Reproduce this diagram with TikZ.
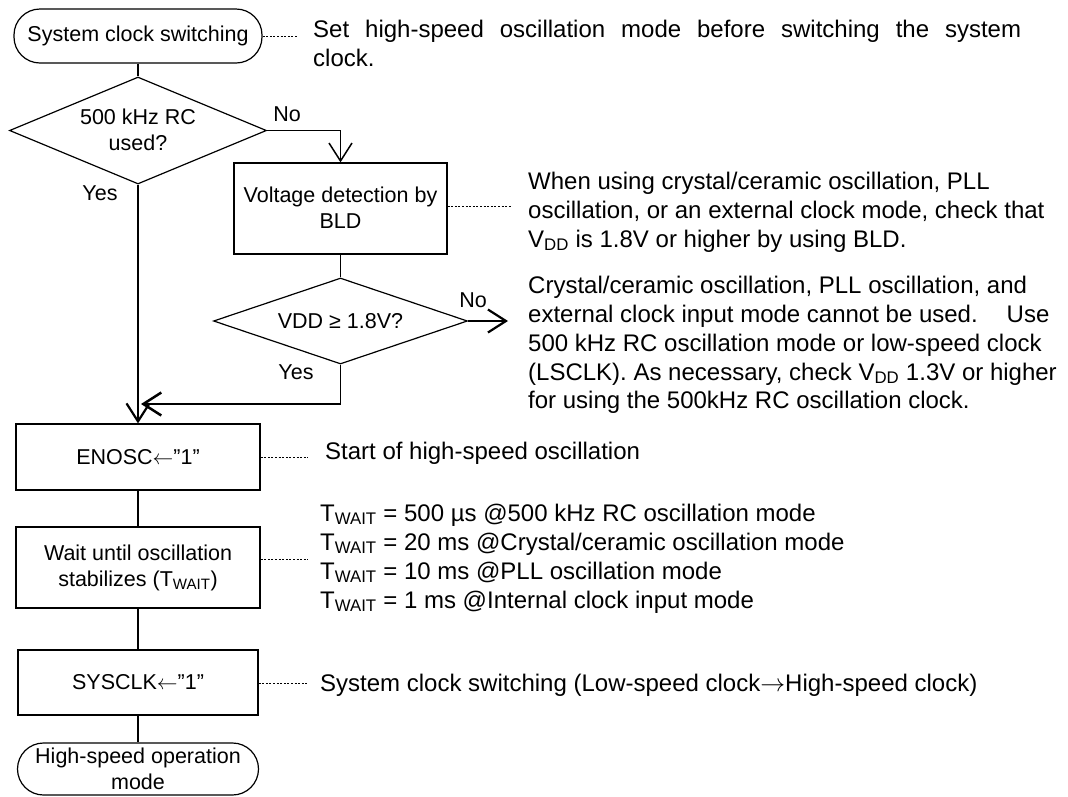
\documentclass[tikz,border=0pt]{standalone}
\usepackage{fontspec}
\setmainfont{Liberation Sans}
\usetikzlibrary{arrows.meta,shapes.geometric}
\newcommand\lowtwo[2]{\raisebox{-1.5pt}[\height][\depth]{\begin{tabular}{@{}c@{}}#1\\#2\end{tabular}}}
\begin{document}
\begin{tikzpicture}[x=1pt,y=-1pt,
  chart/.style={font=\fontsize{21.5}{26}\selectfont, line width=1.2pt, draw, align=center, inner sep=0pt},
  boxnode/.style={chart, rectangle},
  termnode/.style={chart, rectangle, rounded corners=26pt},
  decnode/.style={chart, diamond},
  lbl/.style={font=\fontsize{21.5}{26}\selectfont, inner sep=0pt},
  note/.style={font=\fontsize{24}{29}\selectfont, inner sep=0pt, anchor=base west},
  flowthick/.style={line width=2.2pt},
  flowthin/.style={line width=1.2pt},
  flowarrow/.style={-{Straight Barb[length=18pt,width=23pt]}},
  dotline/.style={line width=0.8pt, dash pattern=on 2pt off 1.6pt},
]
\useasboundingbox (0,0) rectangle (1068,796);

% flowchart nodes
\node[termnode, minimum width=248pt, minimum height=54pt] (start) at (138,36) {System clock switching};
\node[decnode, minimum width=257pt, minimum height=107pt, aspect=2.4] (d1) at (138,130.5) {\lowtwo{500 kHz RC}{used?}};
\node[boxnode, minimum width=213pt, minimum height=91pt] (bld) at (340.5,208.5) {\lowtwo{Voltage detection by}{BLD}};
\node[decnode, minimum width=254pt, minimum height=86pt, aspect=2.95] (d2) at (340.5,321) {VDD ≥ 1.8V?};
\node[boxnode, minimum width=244pt, minimum height=66pt] (enosc) at (138,457) {ENOSC$\leftarrow$”1”};
\node[boxnode, minimum width=244pt, minimum height=81pt] (wait) at (138,567.5) {Wait until oscillation\\stabilizes (T\textsubscript{WAIT})};
\node[boxnode, minimum width=240pt, minimum height=65pt] (sysclk) at (138,682.5) {SYSCLK$\leftarrow$”1”};
\node[termnode, minimum width=241pt, minimum height=52pt] (stop) at (138,769) {High-speed operation\\mode};

% connectors
\draw[flowthick] (start.south) -- (d1.north);
\draw[line width=1.5pt, flowarrow] (d1.east) -| (bld.north);
\draw[flowthick, flowarrow] (d1.south) -- (enosc.north);
\draw[flowthin] (bld.south) -- (d2.north);
\coordinate (noend) at (508,321);
\draw[flowthick, flowarrow] (d2.east) -- (noend);
\coordinate (merge) at (141,404);
\draw[flowthin] (d2.south) -- ([yshift=1.2pt]d2.south |- merge);
\draw[line width=2.5pt, flowarrow] (d2.south |- merge) -- (merge);
\draw[flowthin] (enosc.south) -- (wait.north);
\draw[flowthin] (wait.south) -- (sysclk.north);
\draw[flowthin] (sysclk.south) -- (stop.north);

% branch labels
\node[lbl] (no1) at (287,114) {No};
\node[lbl] (yes1) at (100,193) {Yes};
\node[lbl] (no2) at (473,300.5) {No};
\node[lbl] (yes2) at (296,372.5) {Yes};

% dotted leaders
\coordinate (dA) at (298,36);
\draw[dotline] (start.east) -- (dA);
\coordinate (dB) at (512,206);
\draw[dotline] (bld.east |- dB) -- (dB);
\coordinate (dC) at (308,457);
\draw[dotline] (enosc.east) -- (dC);
\coordinate (dD) at (308,559);
\draw[dotline] (wait.east |- dD) -- (dD);
\coordinate (dE) at (308,683);
\draw[dotline] (sysclk.east |- dE) -- (dE);

% notes
\node[note] (n1a) at (313,37) {\makebox[708pt][s]{Set high-speed oscillation mode before switching the system}};
\node[note] (n1b) at (313,66) {clock.};
\node[note] (n2a) at (528,189) {When using crystal/ceramic oscillation, PLL};
\node[note] (n2b) at (528,218) {oscillation, or an external clock mode, check that};
\node[note] (n2c) at (528,247) {V\textsubscript{DD} is 1.8V or higher by using BLD.};
\node[note] (n3a) at (528,293) {Crystal/ceramic oscillation, PLL oscillation, and};
\node[note] (n3b) at (528,322) {external clock input mode cannot be used.\hspace{29pt}Use};
\node[note] (n3c) at (528,351) {500 kHz RC oscillation mode or low-speed clock};
\node[note] (n3d) at (528,380) {(LSCLK). As necessary, check V\textsubscript{DD} 1.3V or higher};
\node[note] (n3e) at (528,408) {for using the 500kHz RC oscillation clock.};
\node[note] (n4) at (325,459) {Start of high-speed oscillation};
\node[note] (n5a) at (320,521) {T\textsubscript{WAIT} = 500 µs @500 kHz RC oscillation mode};
\node[note] (n5b) at (320,550) {T\textsubscript{WAIT} = 20 ms @Crystal/ceramic oscillation mode};
\node[note] (n5c) at (320,579) {T\textsubscript{WAIT} = 10 ms @PLL oscillation mode};
\node[note] (n5d) at (320,608) {T\textsubscript{WAIT} = 1 ms @Internal clock input mode};
\node[note] (n6) at (320,691) {System clock switching (Low-speed clock$\rightarrow$High-speed clock)};
\end{tikzpicture}
\end{document}
